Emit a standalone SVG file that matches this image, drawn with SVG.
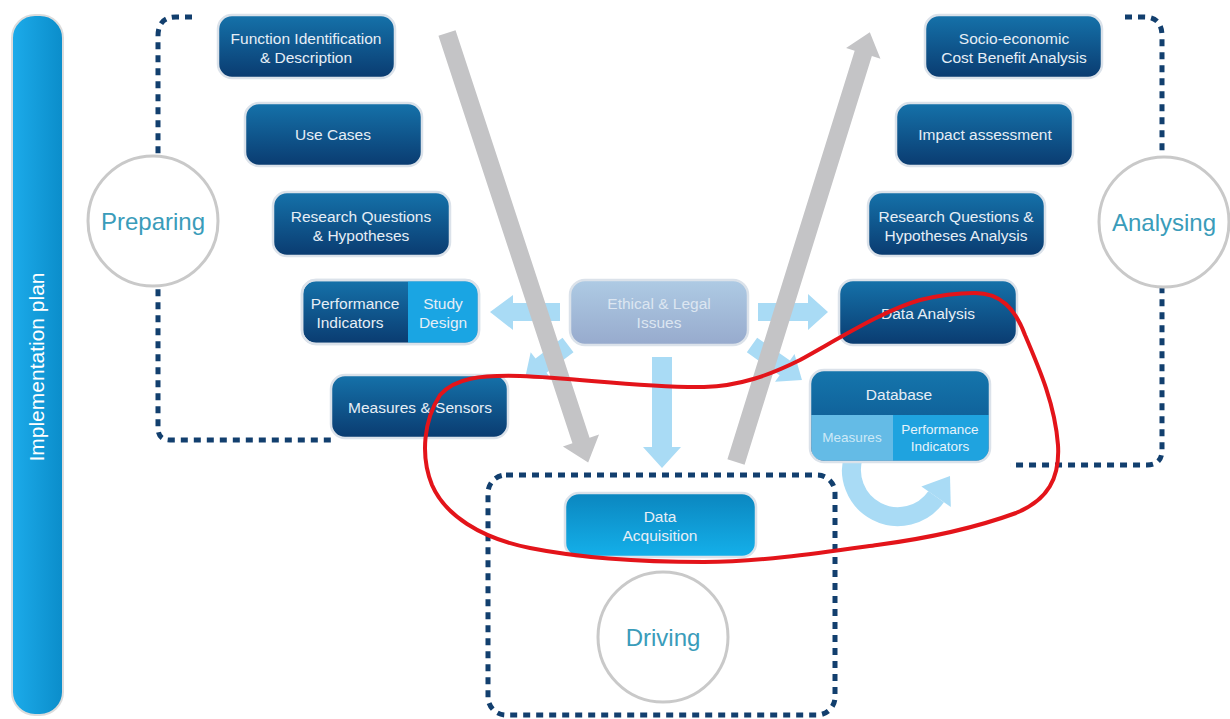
<svg xmlns="http://www.w3.org/2000/svg" width="1230" height="719" viewBox="0 0 1230 719">
<defs>
<linearGradient id="gBox" x1="0" y1="0" x2="0" y2="1"><stop offset="0" stop-color="#1572aa"/><stop offset="1" stop-color="#0a3b70"/></linearGradient>
<linearGradient id="gBright" x1="0" y1="0" x2="0" y2="1"><stop offset="0" stop-color="#0b86bf"/><stop offset="1" stop-color="#14b0ea"/></linearGradient>
<linearGradient id="gEth" x1="0" y1="0" x2="0" y2="1"><stop offset="0" stop-color="#aecbe4"/><stop offset="1" stop-color="#97aacd"/></linearGradient>
<linearGradient id="gBar" x1="0" y1="0" x2="1" y2="0"><stop offset="0" stop-color="#1cabea"/><stop offset="1" stop-color="#0b8dca"/></linearGradient>
<linearGradient id="gHead" x1="0" y1="0" x2="0" y2="1"><stop offset="0" stop-color="#1576ad"/><stop offset="1" stop-color="#0b4f88"/></linearGradient>
<style>
.box{fill:url(#gBox);stroke:#dbe2ea;stroke-width:2.5}
.bt{font-family:"Liberation Sans",Arial,sans-serif;font-size:15.5px;fill:#e6eef6;text-anchor:middle}
.st{font-family:"Liberation Sans",Arial,sans-serif;font-size:13.5px;fill:#e6f3fb;text-anchor:middle}
.ct{font-family:"Liberation Sans",Arial,sans-serif;font-size:24px;fill:#3a9cba;text-anchor:middle}
.circ{fill:#ffffff;stroke:#c9c9c9;stroke-width:3}
.dot{fill:none;stroke:#123f6e;stroke-width:5;stroke-dasharray:7 6}
.gray{fill:#c4c4c6}
.lb{fill:#a9dbf5}
</style>
</defs>

<!-- vertical bar -->
<g id="impl">
<rect x="12" y="15" width="51" height="700" rx="23" fill="url(#gBar)" stroke="#dcdcdc" stroke-width="2"/>
<text transform="translate(44,367) rotate(-90)" font-family="Liberation Sans, Arial, sans-serif" font-size="21" fill="#ffffff" text-anchor="middle">Implementation plan</text>
</g>

<!-- dotted frames -->
<g id="frames">
<path class="dot" d="M192,17 H176 Q158,17 158,36 V428 Q158,440 170,440 H332"/>
<path class="dot" d="M1125,17 H1144 Q1162,17 1162,36 V450 Q1162,465 1147,465 H1010"/>
<rect class="dot" x="488" y="475" width="347" height="240" rx="18"/>
</g>

<!-- connectors -->
<g id="connectors">
<polygon class="lb" points="560,303 513,303 513,295 490,312 513,330 513,321 560,321"/>
<polygon class="lb" points="758,303 808,303 808,294 828,312 808,330 808,321 758,321"/>
<polygon class="lb" points="652,357 672,357 672,447 681,447 662,468 643,447 652,447"/>
<polygon class="lb" transform="translate(568,345) rotate(142.5)" points="0,-9 34,-9 34,-17 54,0 34,17 34,9 0,9"/>
<polygon class="lb" transform="translate(752,345) rotate(35)" points="0,-9 40,-9 40,-17 61,0 40,17 40,9 0,9"/>
<path d="M854.3,454.1 A46.5 46.5 0 0 0 936.1,496.7" fill="none" stroke="#a9dbf5" stroke-width="19"/>
<polygon class="lb" points="950.8,507 921.4,486.4 950,476"/>
<polygon class="gray" transform="translate(447,33) rotate(71.8)" points="0,-9 429,-9 429,-19 452,0 429,19 429,9 0,9"/>
<polygon class="gray" transform="translate(736,462) rotate(-72.7)" points="0,-9 428,-9 428,-18 450,0 428,18 428,9 0,9"/>
</g>

<!-- circles -->
<g id="preparing"><circle class="circ" cx="153" cy="221" r="65"/><text class="ct" x="153" y="230">Preparing</text></g>
<g id="analysing"><circle class="circ" cx="1164" cy="222" r="65"/><text class="ct" x="1164" y="231">Analysing</text></g>
<g id="driving"><circle class="circ" cx="663" cy="637" r="65"/><text class="ct" x="663" y="646">Driving</text></g>

<!-- left boxes -->
<g id="func"><rect class="box" x="218" y="15" width="177" height="63" rx="14"/><text class="bt" x="306" y="44">Function Identification</text><text class="bt" x="306" y="63">&amp; Description</text></g>
<g id="usecases"><rect class="box" x="245" y="103" width="177" height="63" rx="14"/><text class="bt" x="333" y="140">Use Cases</text></g>
<g id="rq"><rect class="box" x="273" y="192" width="177" height="64" rx="14"/><text class="bt" x="361" y="222">Research Questions</text><text class="bt" x="361" y="241">&amp; Hypotheses</text></g>
<g id="pi">
<rect class="box" x="302" y="280" width="177" height="64" rx="14"/>
<path d="M408,281.3 H465 Q477.7,281.3 477.7,294 V330 Q477.7,342.7 465,342.7 H408 Z" fill="#1aa5e3"/>
<rect x="302" y="280" width="177" height="64" rx="14" fill="none" stroke="#dbe2ea" stroke-width="2.5"/>
<text class="bt" x="355" y="309">Performance</text><text class="bt" x="350" y="328">Indicators</text>
<text class="bt" x="443" y="309">Study</text><text class="bt" x="443" y="328">Design</text>
</g>
<g id="measures"><rect class="box" x="331" y="375" width="177" height="63" rx="14"/><text class="bt" x="420" y="413">Measures &amp; Sensors</text></g>

<!-- center -->
<g id="ethical"><rect x="570" y="280" width="178" height="65" rx="15" fill="url(#gEth)" stroke="#dbe2ea" stroke-width="2.5"/><text class="bt" x="659" y="309" style="fill:#dce6f1">Ethical &amp; Legal</text><text class="bt" x="659" y="328" style="fill:#dce6f1">Issues</text></g>
<g id="acq"><rect x="565" y="493" width="191" height="64" rx="14" fill="url(#gBright)" stroke="#dbe2ea" stroke-width="2.5"/><text class="bt" x="660" y="522">Data</text><text class="bt" x="660" y="541">Acquisition</text></g>

<!-- right boxes -->
<g id="socio"><rect class="box" x="925" y="15" width="177" height="63" rx="14"/><text class="bt" x="1014" y="44">Socio-economic</text><text class="bt" x="1014" y="63">Cost Benefit Analysis</text></g>
<g id="impact"><rect class="box" x="896" y="103" width="177" height="63" rx="14"/><text class="bt" x="985" y="140">Impact assessment</text></g>
<g id="rqa"><rect class="box" x="868" y="192" width="177" height="64" rx="14"/><text class="bt" x="956" y="222">Research Questions &amp;</text><text class="bt" x="956" y="241">Hypotheses Analysis</text></g>
<g id="da"><rect class="box" x="839" y="280" width="178" height="65" rx="14"/><text class="bt" x="928" y="319">Data Analysis</text></g>
<g id="db">
<rect x="810" y="370" width="180" height="92" rx="14" fill="url(#gHead)"/>
<path d="M811.3,415 H893 V460.7 H825 Q811.3,460.7 811.3,447 Z" fill="#64bbe6"/>
<path d="M893,415 H988.7 V447 Q988.7,460.7 975,460.7 H893 Z" fill="#1fa3df"/>
<rect x="810" y="370" width="180" height="92" rx="14" fill="none" stroke="#dbe2ea" stroke-width="2.5"/>
<text class="bt" x="899" y="400">Database</text>
<text class="st" x="852" y="442" style="fill:#cde9f7">Measures</text>
<text class="st" x="940" y="434">Performance</text><text class="st" x="940" y="451">Indicators</text>
</g>

<!-- red loop -->
<path id="loop" d="M975,293 C1000,293 1015,308 1025,335 C1040,370 1055,405 1058,445 C1060,478 1048,500 1016,513 C975,528 930,538 877,545 C820,553 760,562 704,562 C640,562 580,558 530,548 C480,538 445,515 432,485 C420,455 424,420 440,395 C455,378 480,375 520,376 C580,378 640,388 704,387 C740,386 770,375 800,360 C845,335 885,310 920,300 C940,295 958,293 975,293 Z" fill="none" stroke="#e3141a" stroke-width="4"/>
</svg>
